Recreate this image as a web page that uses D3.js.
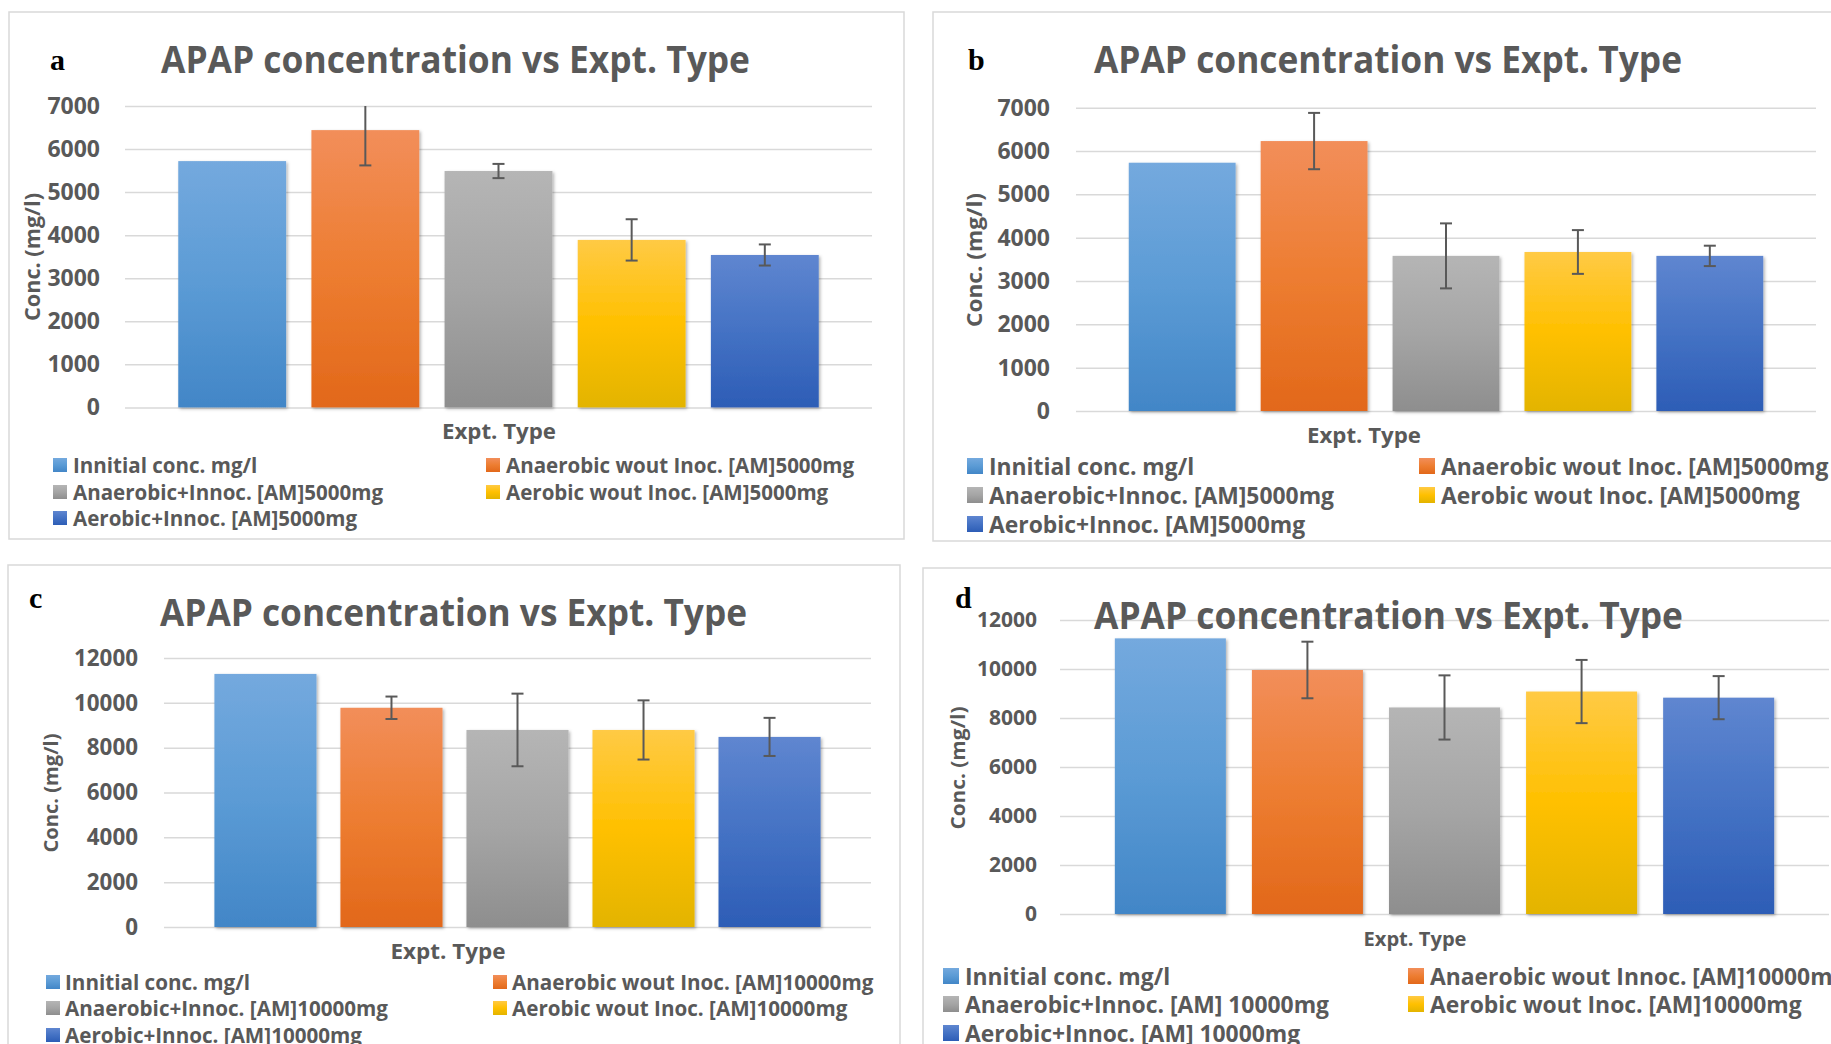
<!DOCTYPE html>
<html>
<head>
<meta charset="utf-8">
<script src="https://cdn.jsdelivr.net/npm/d3@7"></script>
<style>
  html, body { margin: 0; padding: 0; background: #fff; }
  svg { display: block; }
  text { font-family: "Open Sans", "DejaVu Sans", sans-serif; }
</style>
</head>
<body>
<svg id="chart" width="1831" height="1044"></svg>
<script>
// ---- data ----
const titleText = "APAP concentration vs Expt. Type";
const yAxisTitle = "Conc. (mg/l)";
const xAxisTitle = "Expt. Type";

// APAP concentration (mg/l) per experiment type, with ± error
const valuesA = [5720, 6440, 5490, 3890, 3540];
const errorsA = [0, 820, 165, 480, 245];
const valuesB = [5730, 6230, 3580, 3670, 3580];
const errorsB = [0, 650, 750, 505, 235];
const valuesC = [11290, 9780, 8790, 8790, 8480];
const errorsC = [0, 500, 1620, 1320, 850];
const valuesD = [11250, 9960, 8430, 9080, 8830];
const errorsD = [0, 1155, 1310, 1290, 880];

const ticks5000 = [0, 1000, 2000, 3000, 4000, 5000, 6000, 7000];
const ticks10000 = [0, 2000, 4000, 6000, 8000, 10000, 12000];

const legend5000 = ["Innitial conc. mg/l", "Anaerobic wout Inoc. [AM]5000mg",
  "Anaerobic+Innoc. [AM]5000mg", "Aerobic wout Inoc. [AM]5000mg", "Aerobic+Innoc. [AM]5000mg"];
const legend10000 = ["Innitial conc. mg/l", "Anaerobic wout Inoc. [AM]10000mg",
  "Anaerobic+Innoc. [AM]10000mg", "Aerobic wout Inoc. [AM]10000mg", "Aerobic+Innoc. [AM]10000mg"];
const legend10000d = ["Innitial conc. mg/l", "Anaerobic wout Innoc. [AM]10000mg",
  "Anaerobic+Innoc. [AM] 10000mg", "Aerobic wout Inoc. [AM]10000mg", "Aerobic+Innoc. [AM] 10000mg"];

// gradient stops per series: top, middle, bottom
const seriesColors = [
  ["#74a9de", "#5b9bd5", "#4286c7"],
  ["#f28e5a", "#ed7d31", "#e2681a"],
  ["#b5b5b5", "#a5a5a5", "#8e8e8e"],
  ["#ffca45", "#ffc000", "#e3b400"],
  ["#5f86d0", "#4472c4", "#2d5db6"]
];

// ---- layout of the four panels ----
const panels = [
  { letter: "a", values: valuesA, errors: errorsA, ticks: ticks5000, yMax: 7000, legend: legend5000,
    frame: [9, 12, 895, 527], plotX: [125, 872], plotY: [407.4, 106], tickRight: 100, tickSize: 23,
    title: { x0: 161, x1: 750, y: 73, size: 37 }, letterPos: [50, 70],
    yTitle: { x: 31, y: 257, len: 128, size: 22 }, xTitle: { x: 499, y: 430, len: 114, size: 22 },
    leg: { cols: [53, 486], gap: 20, rows: [465, 492, 518], sq: 14, size: 21, refIdx: 2, refWidth: 310 } },
  { letter: "b", values: valuesB, errors: errorsB, ticks: ticks5000, yMax: 7000, legend: legend5000,
    frame: [933, 12, 920, 529], plotX: [1076, 1816], plotY: [411, 107.7], tickRight: 1050, tickSize: 23,
    title: { x0: 1094, x1: 1682, y: 73, size: 37 }, letterPos: [968, 70],
    yTitle: { x: 973, y: 260, len: 134, size: 22 }, xTitle: { x: 1364, y: 434, len: 114, size: 22 },
    leg: { cols: [967, 1419], gap: 22, rows: [466, 495, 524], sq: 16, size: 23, refIdx: 2, refWidth: 345 } },
  { letter: "c", values: valuesC, errors: errorsC, ticks: ticks10000, yMax: 12000, legend: legend10000,
    frame: [8, 565, 892, 520], plotX: [164, 871], plotY: [927, 658], tickRight: 138, tickSize: 22.4,
    title: { x0: 160, x1: 747, y: 626, size: 37 }, letterPos: [29, 608],
    yTitle: { x: 50, y: 793, len: 119, size: 20 }, xTitle: { x: 448, y: 950, len: 115, size: 22 },
    leg: { cols: [46, 493], gap: 19, rows: [982, 1008, 1035], sq: 14, size: 21, refIdx: 2, refWidth: 323 } },
  { letter: "d", values: valuesD, errors: errorsD, ticks: ticks10000, yMax: 12000, legend: legend10000d,
    frame: [923, 568, 920, 520], plotX: [1060, 1829], plotY: [914, 620], tickRight: 1037, tickSize: 21,
    title: { x0: 1094, x1: 1683, y: 629, size: 37 }, letterPos: [955, 608],
    yTitle: { x: 957, y: 768, len: 123, size: 20 }, xTitle: { x: 1415, y: 938, len: 103, size: 20 },
    leg: { cols: [943, 1408], gap: 22, rows: [976, 1004, 1033], sq: 16, size: 23, refIdx: 2, refWidth: 364 } }
];

const textColor = "#595959";
const gridColor = "#d9d9d9";

const svg = d3.select("#chart");
const defs = svg.append("defs");

// vertical gradients for bars and legend keys
seriesColors.forEach((c, i) => {
  const g = defs.append("linearGradient").attr("id", "grad" + i)
    .attr("x1", 0).attr("y1", 0).attr("x2", 0).attr("y2", 1);
  g.append("stop").attr("offset", "0%").attr("stop-color", c[0]);
  g.append("stop").attr("offset", "50%").attr("stop-color", c[1]);
  g.append("stop").attr("offset", "100%").attr("stop-color", c[2]);
});

const shadow = defs.append("filter").attr("id", "barShadow")
  .attr("x", "-10%").attr("y", "-10%").attr("width", "130%").attr("height", "130%");
shadow.append("feDropShadow").attr("dx", 1.5).attr("dy", 1.5).attr("stdDeviation", 1.5)
  .attr("flood-color", "#000").attr("flood-opacity", 0.3);

panels.forEach(p => {
  const g = svg.append("g");

  // chart frame
  g.append("rect")
    .attr("x", p.frame[0]).attr("y", p.frame[1])
    .attr("width", p.frame[2]).attr("height", p.frame[3])
    .attr("fill", "none").attr("stroke", gridColor).attr("stroke-width", 1.5);

  const x = d3.scaleBand().domain(d3.range(p.values.length))
    .range(p.plotX).paddingInner(0.19).paddingOuter(0.4);
  const y = d3.scaleLinear().domain([0, p.yMax]).range(p.plotY);

  // y axis: labels + horizontal gridlines
  const axis = d3.axisLeft(y).tickValues(p.ticks)
    .tickSize(-(p.plotX[1] - p.plotX[0]))
    .tickPadding(p.plotX[0] - p.tickRight)
    .tickFormat(d3.format("d"));
  const ag = g.append("g").attr("transform", `translate(${p.plotX[0]},0)`).call(axis);
  ag.select(".domain").remove();
  ag.selectAll(".tick line").attr("stroke", gridColor).attr("stroke-width", 1.5);
  ag.selectAll(".tick text")
    .attr("fill", textColor)
    .style("font-size", p.tickSize + "px")
    .style("font-weight", 700)
    .style("font-family", '"Open Sans", sans-serif');

  // bars
  g.append("g").selectAll("rect").data(p.values).join("rect")
    .attr("x", (d, i) => x(i))
    .attr("y", d => y(d))
    .attr("width", x.bandwidth())
    .attr("height", d => y(0) - y(d))
    .attr("fill", (d, i) => `url(#grad${i})`)
    .attr("filter", "url(#barShadow)");

  // error bars (clipped at the axis maximum)
  const eb = g.append("g").attr("stroke", textColor).attr("stroke-width", 2);
  p.values.forEach((v, i) => {
    const e = p.errors[i];
    if (!e) return;
    const cx = x(i) + x.bandwidth() / 2;
    const hi = Math.min(v + e, p.yMax);
    const lo = v - e;
    eb.append("line").attr("x1", cx).attr("x2", cx).attr("y1", y(hi)).attr("y2", y(lo));
    eb.append("line").attr("x1", cx - 6).attr("x2", cx + 6).attr("y1", y(lo)).attr("y2", y(lo));
    if (v + e <= p.yMax) {
      eb.append("line").attr("x1", cx - 6).attr("x2", cx + 6).attr("y1", y(hi)).attr("y2", y(hi));
    }
  });

  // chart title
  g.append("text")
    .attr("x", p.title.x0).attr("y", p.title.y)
    .attr("fill", textColor)
    .style("font-size", p.title.size + "px").style("font-weight", 700)
    .attr("textLength", p.title.x1 - p.title.x0)
    .attr("lengthAdjust", "spacingAndGlyphs")
    .text(titleText);

  // panel letter
  g.append("text")
    .attr("x", p.letterPos[0]).attr("y", p.letterPos[1])
    .attr("fill", "#000")
    .style("font-family", '"Liberation Serif", "Times New Roman", serif')
    .style("font-size", "30px").style("font-weight", 700)
    .text(p.letter);

  // y axis title
  g.append("text")
    .attr("transform", `translate(${p.yTitle.x},${p.yTitle.y}) rotate(-90)`)
    .attr("text-anchor", "middle").attr("dominant-baseline", "central")
    .attr("fill", textColor)
    .style("font-size", p.yTitle.size + "px").style("font-weight", 700)
    .attr("textLength", p.yTitle.len).attr("lengthAdjust", "spacingAndGlyphs")
    .text(yAxisTitle);

  // x axis title
  g.append("text")
    .attr("x", p.xTitle.x).attr("y", p.xTitle.y)
    .attr("text-anchor", "middle").attr("dominant-baseline", "central")
    .attr("fill", textColor)
    .style("font-size", p.xTitle.size + "px").style("font-weight", 700)
    .attr("textLength", p.xTitle.len).attr("lengthAdjust", "spacingAndGlyphs")
    .text(xAxisTitle);

  // legend: two columns, series filled row by row
  const L = p.leg;
  const lg = g.append("g");
  const items = lg.selectAll("g").data(p.legend).join("g")
    .attr("transform", (d, i) => `translate(${L.cols[i % 2]},${L.rows[Math.floor(i / 2)]})`);
  items.append("rect")
    .attr("x", 0).attr("y", -L.sq / 2)
    .attr("width", L.sq).attr("height", L.sq)
    .attr("fill", (d, i) => `url(#grad${i})`);
  const texts = items.append("text")
    .attr("x", L.gap).attr("y", 0)
    .attr("dominant-baseline", "central")
    .attr("fill", textColor)
    .style("font-size", L.size + "px").style("font-weight", 700)
    .text(d => d);
  // narrow all entries of the legend by the same factor
  const widths = texts.nodes().map(n => n.getComputedTextLength());
  const k = L.refWidth / widths[L.refIdx];
  texts.attr("textLength", (d, i) => widths[i] * k).attr("lengthAdjust", "spacingAndGlyphs");
});
</script>
</body>
</html>
